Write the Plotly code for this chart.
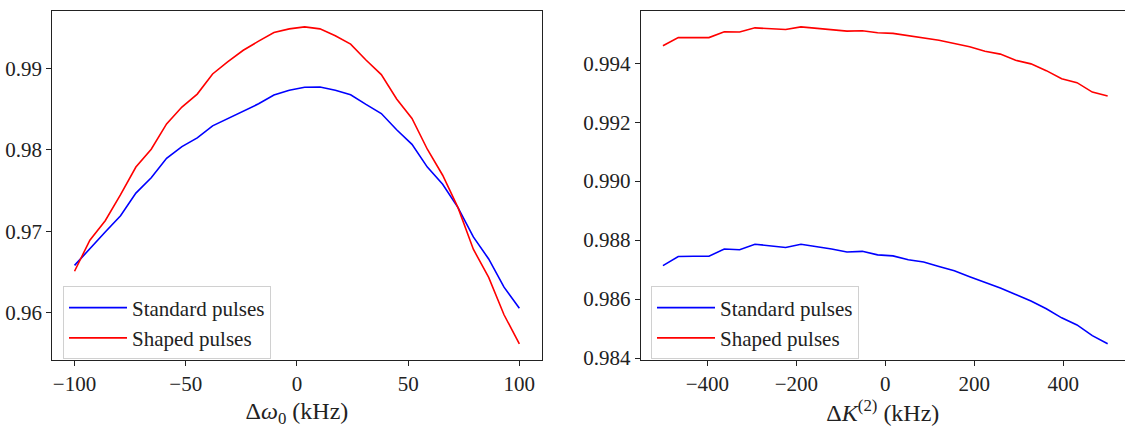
import numpy as np
import plotly.graph_objects as go

# ---- data ----
dw0_khz = np.linspace(-100, 100, 30)
std_dw0 = [0.96582, 0.96793, 0.96992, 0.97191, 0.97470, 0.97657, 0.97896, 0.98040,
           0.98147, 0.98295, 0.98386, 0.98478, 0.98566, 0.98673, 0.98733, 0.98769,
           0.98773, 0.98733, 0.98677, 0.98558, 0.98446, 0.98247, 0.98068, 0.97789,
           0.97578, 0.97291, 0.96932, 0.96661, 0.96315, 0.96056]
shp_dw0 = [0.96510, 0.96892, 0.97131, 0.97450, 0.97789, 0.98008, 0.98319, 0.98526,
           0.98685, 0.98932, 0.99084, 0.99223, 0.99335, 0.99442, 0.99486, 0.99510,
           0.99486, 0.99402, 0.99299, 0.99104, 0.98924, 0.98625, 0.98386, 0.98008,
           0.97689, 0.97291, 0.96781, 0.96434, 0.95976, 0.95618]

dk2_khz = np.linspace(-500, 500, 30)
std_dk2 = [0.987135, 0.987443, 0.987454, 0.987454, 0.987696, 0.987674, 0.987861, 0.987806,
           0.987751, 0.987861, 0.987784, 0.987696, 0.987597, 0.987619, 0.987498, 0.987465,
           0.987333, 0.987256, 0.987102, 0.986959, 0.986761, 0.986574, 0.986376, 0.986156,
           0.985936, 0.985672, 0.985364, 0.985122, 0.984759, 0.984484]
shp_dk2 = [0.994594, 0.994869, 0.994869, 0.994869, 0.995067, 0.995056, 0.995199, 0.995177,
           0.995144, 0.995232, 0.995188, 0.995144, 0.995089, 0.995100, 0.995034, 0.995012,
           0.994935, 0.994869, 0.994781, 0.994671, 0.994561, 0.994407, 0.994308, 0.994099,
           0.993978, 0.993747, 0.993472, 0.993340, 0.993021, 0.992889]

names = ["Standard pulses", "Shaped pulses"]
colors = ["#0000ff", "#ff0000"]

W, H = 1125, 428
FONT = "Liberation Serif, Times New Roman, serif"

fig = go.Figure()
for ys, nm, c in zip([std_dw0, shp_dw0], names, colors):
    fig.add_trace(go.Scatter(x=dw0_khz, y=ys, mode="lines", name=nm,
                             line=dict(color=c, width=1.6), xaxis="x", yaxis="y",
                             legend="legend"))
for ys, nm, c in zip([std_dk2, shp_dk2], names, colors):
    fig.add_trace(go.Scatter(x=dk2_khz, y=ys, mode="lines", name=nm,
                             line=dict(color=c, width=1.6), xaxis="x2", yaxis="y2",
                             legend="legend2"))

top = 1 - 11.3 / H
bot = 1 - 369.3 / H
axcommon = dict(showgrid=False, zeroline=False, ticks="outside", ticklen=5, tickwidth=1,
                tickcolor="#222", linecolor="#222", linewidth=1, showline=True,
                tickfont=dict(family=FONT, size=21, color="#222"))

legstyle = dict(bgcolor="rgba(255,255,255,0.8)", bordercolor="#d0d0d0", borderwidth=1,
                font=dict(family=FONT, size=21, color="#222"), itemwidth=58,
                xanchor="left", yanchor="top", tracegroupgap=0)

fig.update_layout(
    width=W, height=H, margin=dict(l=0, r=0, t=0, b=0),
    paper_bgcolor="white", plot_bgcolor="white",
    xaxis=dict(domain=[52.3 / W, 541.6 / W], range=[-110, 110], anchor="y",
               tickvals=[-100, -50, 0, 50, 100], mirror=True,
               title=dict(text="Δ<i>ω</i><sub>0</sub> (kHz)",
                          font=dict(family=FONT, size=24, color="#222"), standoff=9),
               **axcommon),
    yaxis=dict(domain=[bot, top], range=[0.95423, 0.99705], anchor="x",
               tickvals=[0.96, 0.97, 0.98, 0.99], tickformat=".2f", mirror=True,
               **axcommon),
    xaxis2=dict(domain=[640.7 / W, 1.0], range=[-550, 539], anchor="y2",
                tickvals=[-400, -200, 0, 200, 400], mirror=True,
                title=dict(text="Δ<i>K</i><sup>(2)</sup> (kHz)",
                           font=dict(family=FONT, size=24, color="#222"), standoff=9),
                **axcommon),
    yaxis2=dict(domain=[bot, top], range=[0.98394, 0.99577], anchor="x2",
                tickvals=[0.984, 0.986, 0.988, 0.990, 0.992, 0.994], tickformat=".3f",
                mirror=False, **axcommon),
    legend=dict(x=63 / W, y=1 - 294 / H, **legstyle),
    legend2=dict(x=651 / W, y=1 - 294 / H, **legstyle),
)

fig.write_html("out.html")
